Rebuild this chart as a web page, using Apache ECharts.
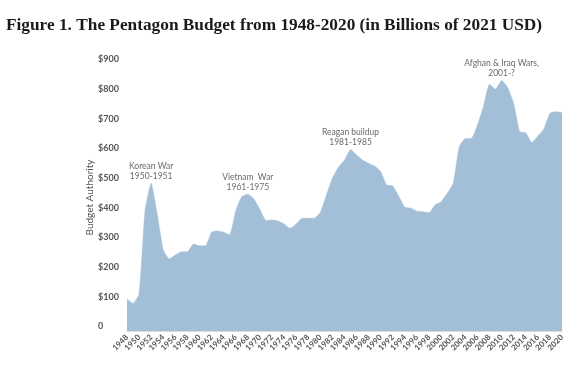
<!DOCTYPE html>
<html>
<head>
<meta charset="utf-8">
<script src="https://cdn.jsdelivr.net/npm/echarts@6/dist/echarts.min.js"></script>
<style>
  html, body { margin: 0; padding: 0; background: #fff; }
  #chart { width: 584px; height: 383px; }
</style>
</head>
<body>
<div id="chart"></div>
<script>
const titleText = 'Figure 1. The Pentagon Budget from 1948-2020 (in Billions of 2021 USD)';
const years = [];
for (let y = 1948; y <= 2020; y++) years.push(String(y));
const budget = [
  108, 93, 125, 408, 498, 395, 273, 243, 256, 267,
  267, 293, 287, 287, 333, 337, 333, 324, 405, 453,
  461, 445, 410, 372, 374, 371, 361, 346, 361, 380,
  380, 380, 400, 458, 515, 552, 576, 612, 593, 576,
  565, 556, 537, 492, 489, 453, 417, 414, 404, 402,
  399, 425, 436, 464, 498, 621, 649, 649, 694, 756,
  832, 815, 844, 821, 767, 672, 668, 635, 657, 681,
  734, 739, 736
];
const yTicks = [0, 100, 200, 300, 400, 500, 600, 700, 800, 900];
const annotationYears = ['1952', '1968', '1985', '2010'];
const annotationTexts = ['Korean War\n1950-1951', 'Vietnam  War\n1961-1975', 'Reagan buildup\n1981-1985', 'Afghan & Iraq Wars,\n2001-?'];

const annData = annotationYears.map((yr, i) => ({
  value: [yr, budget[years.indexOf(yr)]],
  label: { formatter: annotationTexts[i] }
}));

const chart = echarts.init(document.getElementById('chart'));
chart.setOption({
  animation: false,
  title: {
    text: titleText,
    left: 1, top: 12,
    textStyle: { fontFamily: 'Liberation Serif', fontWeight: 'bold', fontSize: 17.3, color: '#1a1a1a' }
  },
  grid: { left: 127, right: 22, top: 64, bottom: 52 },
  xAxis: {
    type: 'category',
    data: years,
    boundaryGap: false,
    axisLine: { show: true, lineStyle: { color: '#dcdcdc', width: 1 } },
    axisTick: { show: false },
    axisLabel: {
      interval: 1, rotate: 45, margin: 5,
      showMinLabel: true, showMaxLabel: true, hideOverlap: false,
      fontFamily: 'Lato', fontWeight: 'bold', fontSize: 8, color: '#555'
    }
  },
  yAxis: {
    type: 'value',
    min: 0, max: 900, interval: 100,
    name: 'Budget Authority',
    nameLocation: 'middle',
    nameGap: 32,
    nameMoveOverlap: false,
    nameTextStyle: { fontFamily: 'Lato', fontSize: 10, color: '#555' },
    axisLine: { show: false },
    axisTick: { show: false },
    splitLine: { show: false },
    axisLabel: {
      align: 'left', verticalAlign: 'bottom', margin: 29,
      fontFamily: 'Lato', fontWeight: 'bold', fontSize: 9, color: '#555',
      formatter: v => (yTicks.indexOf(v) >= 0 ? (v === 0 ? '0' : '$' + v) : '')
    }
  },
  series: [
    {
      type: 'line',
      data: budget,
      symbol: 'none',
      smooth: 0.15,
      lineStyle: { width: 0.5, color: '#a3bed7' },
      areaStyle: { color: '#a3bed7', opacity: 1 }
    },
    {
      type: 'scatter',
      data: annData,
      symbolSize: 0,
      silent: true,
      label: {
        show: true, position: 'top', distance: 2,
        fontFamily: 'Lato', fontSize: 8.5, lineHeight: 10, color: '#444', align: 'center'
      }
    }
  ]
});
</script>
</body>
</html>
